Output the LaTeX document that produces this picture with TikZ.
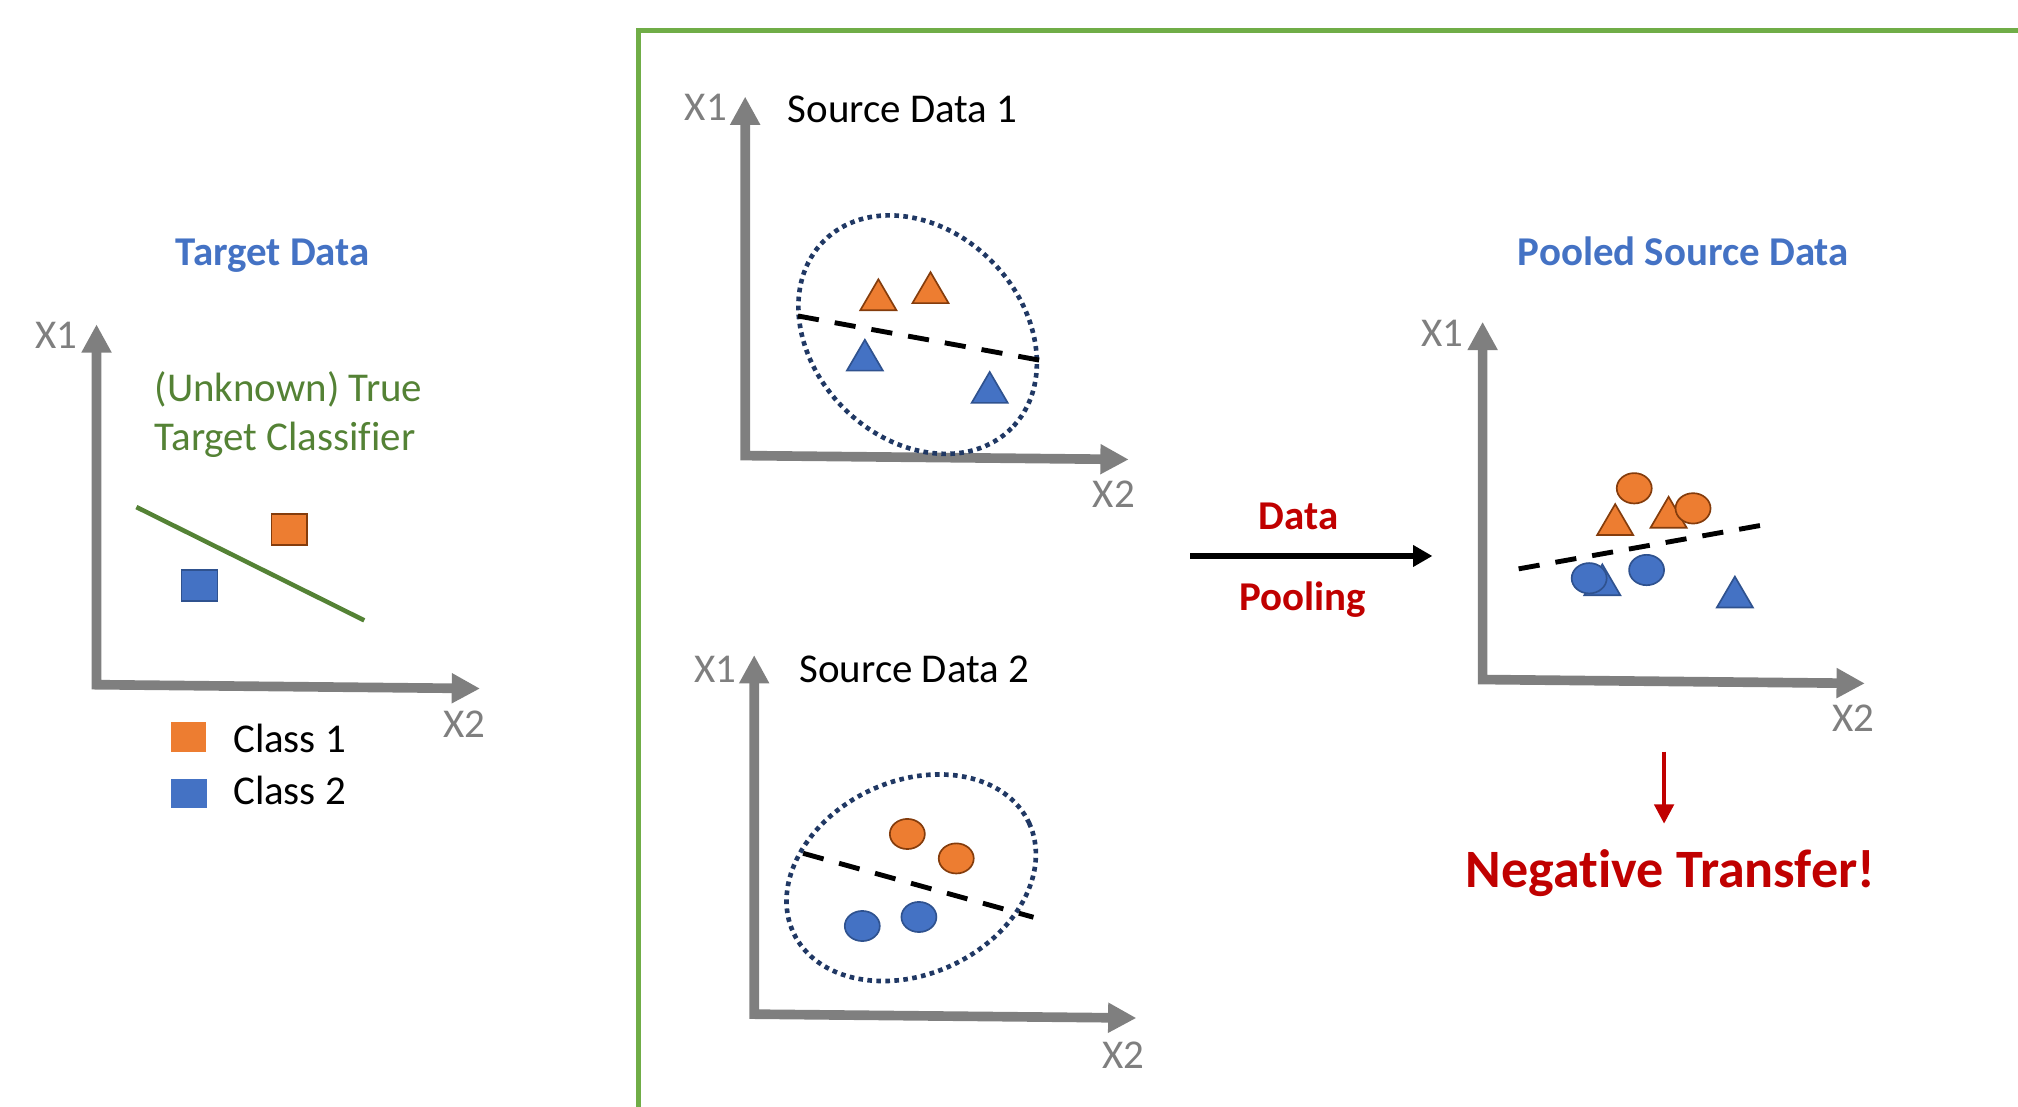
\documentclass[tikz,border=0pt]{standalone}
\usepackage{fontspec}
\setmainfont{Carlito}[Ligatures=NoCommon]
\usetikzlibrary{arrows.meta, positioning}
\definecolor{axisgray}{RGB}{127,127,127}
\definecolor{framegreen}{RGB}{112,173,71}
\definecolor{titleblue}{RGB}{68,114,196}
\definecolor{truegreen}{RGB}{84,130,53}
\definecolor{classone}{RGB}{237,125,49}
\definecolor{classoneline}{RGB}{132,60,12}
\definecolor{classtwo}{RGB}{68,114,196}
\definecolor{classtwoline}{RGB}{47,82,143}
\definecolor{clusternavy}{RGB}{32,56,100}
\definecolor{alertred}{RGB}{192,0,0}

\tikzset{
  txt/.style={font=\fontsize{31.8}{37}\selectfont, inner sep=0pt, text height=20pt, text depth=0pt},
  axlabel/.style={txt, text=axisgray},
  paneltitle/.style={txt, font=\fontsize{31.8}{37}\selectfont\bfseries, text=titleblue},
  redtxt/.style={txt, font=\fontsize{31.8}{37}\selectfont\bfseries, text=alertred},
  axisline/.style={draw=axisgray, line width=7.5pt, line join=miter,
    {Triangle[length=22pt,width=22pt]}-{Triangle[length=22pt,width=22pt]}},
  clusterring/.style={draw=clusternavy, line width=3.6pt, dash pattern=on 3.6pt off 3.4pt},
  splitline/.style={draw=black, line width=3.8pt, dash pattern=on 16.5pt off 12.5pt},
  c1/.style={fill=classone, draw=classoneline, line width=1.3pt},
  c2/.style={fill=classtwo, draw=classtwoline, line width=1.3pt},
}

\begin{document}
\begin{tikzpicture}[x=1pt, y=-1pt]
\useasboundingbox (0,0) rectangle (1568,860);

% frame round the source side
\draw[framegreen, line width=4pt, line join=miter] (496,864) -- (496,24) -- (1572,24);

% === Target data ===
\node[paneltitle] (ttitle) at (212,196) {Target Data};
\coordinate (t-o) at (75,532);
\coordinate (t-y) at (75,252);
\coordinate (t-x) at (373,535);
\draw[axisline] (t-y) -- (t-o) -- (t-x);
\node[axlabel] (t-x1) at (44,261) {X1};
\node[axlabel] (t-x2) at (361,563) {X2};
\node[txt, text=truegreen, anchor=west] (unk1) at (120,302) {(Unknown) True};
\node[txt, text=truegreen, anchor=west] (unk2) at (120,340) {Target Classifier};
\draw[truegreen, line width=3.5pt] (106,394) -- (283,482);
\draw[c1] (211,399.5) rectangle (238.5,423.5);
\draw[c2] (141,443) rectangle (169,467);
% legend
\fill[classone] (133,561) rectangle (160,584);
\fill[classtwo] (133,605) rectangle (160.5,628);
\node[txt, anchor=west] (leg1) at (181,575) {Class 1};
\node[txt, anchor=west] (leg2) at (181,615) {Class 2};

% === Source data 1 ===
\coordinate (s1-o) at (579,354);
\coordinate (s1-y) at (579,75);
\coordinate (s1-x) at (877,357);
\draw[axisline] (s1-y) -- (s1-o) -- (s1-x);
\node[axlabel] (s1-x1) at (548.5,84) {X1};
\node[axlabel] (s1-x2) at (865.5,384.5) {X2};
\node[txt, anchor=west] (s1title) at (612,85.5) {Source Data 1};
\draw[clusterring, rotate around={-45:(713,260)}] (713,260) ellipse [x radius=103, y radius=81];
\draw[splitline] (620,245.5) -- (814,281);
\foreach \x/\y in {682.5/229, 723/223.5}
  \draw[c1] (\x-14,\y+12) -- (\x,\y-12) -- (\x+14,\y+12) -- cycle;
\foreach \x/\y in {672/276, 769/301}
  \draw[c2] (\x-14,\y+12) -- (\x,\y-12) -- (\x+14,\y+12) -- cycle;

% === Source data 2 ===
\coordinate (s2-o) at (586,788);
\coordinate (s2-y) at (586,509);
\coordinate (s2-x) at (883,791);
\draw[axisline] (s2-y) -- (s2-o) -- (s2-x);
\node[axlabel] (s2-x1) at (556,520) {X1};
\node[axlabel] (s2-x2) at (873,820) {X2};
\node[txt, anchor=west] (s2title) at (621,520.5) {Source Data 2};
\draw[clusterring, rotate around={25:(708,682)}] (708,682) ellipse [x radius=101, y radius=75];
\draw[splitline] (624,663) -- (803,712.7);
\foreach \x/\y in {705/648, 743/667}
  \draw[c1] (\x,\y) ellipse [x radius=13.6, y radius=11.7];
\foreach \x/\y in {670/719.5, 714/712.5}
  \draw[c2] (\x,\y) ellipse [x radius=13.6, y radius=11.7];

% === Pooling ===
\coordinate (pool-a) at (925,432);
\coordinate (pool-b) at (1113,432);
\draw[line width=4.5pt, -{Triangle[length=15pt,width=16pt]}] (pool-a) -- (pool-b);
\node[redtxt] (pool-t1) at (1009,401.5) {Data};
\node[redtxt] (pool-t2) at (1012,464) {Pooling};

% === Pooled source data ===
\node[paneltitle] (ptitle) at (1308,196) {Pooled Source Data};
\coordinate (p-o) at (1152,528);
\coordinate (p-y) at (1152,250);
\coordinate (p-x) at (1449,531);
\draw[axisline] (p-y) -- (p-o) -- (p-x);
\node[axlabel] (p-x1) at (1121,259) {X1};
\node[axlabel] (p-x2) at (1440,558) {X2};
\draw[splitline] (1180,442) -- (1375,407);
\foreach \x/\y in {1255/403.7, 1296.5/398}
  \draw[c1] (\x-14,\y+12) -- (\x,\y-12) -- (\x+14,\y+12) -- cycle;
\foreach \x/\y in {1269.8/379.4, 1315.5/395}
  \draw[c1] (\x,\y) ellipse [x radius=13.6, y radius=11.8];
\foreach \x/\y in {1245/450.5, 1348/460}
  \draw[c2] (\x-14,\y+12) -- (\x,\y-12) -- (\x+14,\y+12) -- cycle;
\foreach \x/\y in {1234.8/449.3, 1279.4/442.9}
  \draw[c2] (\x,\y) ellipse [x radius=13.6, y radius=11.8];

% negative transfer
\coordinate (neg-a) at (1293,584);
\coordinate (neg-b) at (1293,640);
\draw[alertred, line width=3pt, -{Triangle[length=15pt,width=15pt]}] (neg-a) -- (neg-b);
\node[txt, font=\fontsize{42}{50}\selectfont\bfseries, text=alertred, text height=27pt] (neg) at (1298,676) {Negative Transfer!};

\end{tikzpicture}
\end{document}
